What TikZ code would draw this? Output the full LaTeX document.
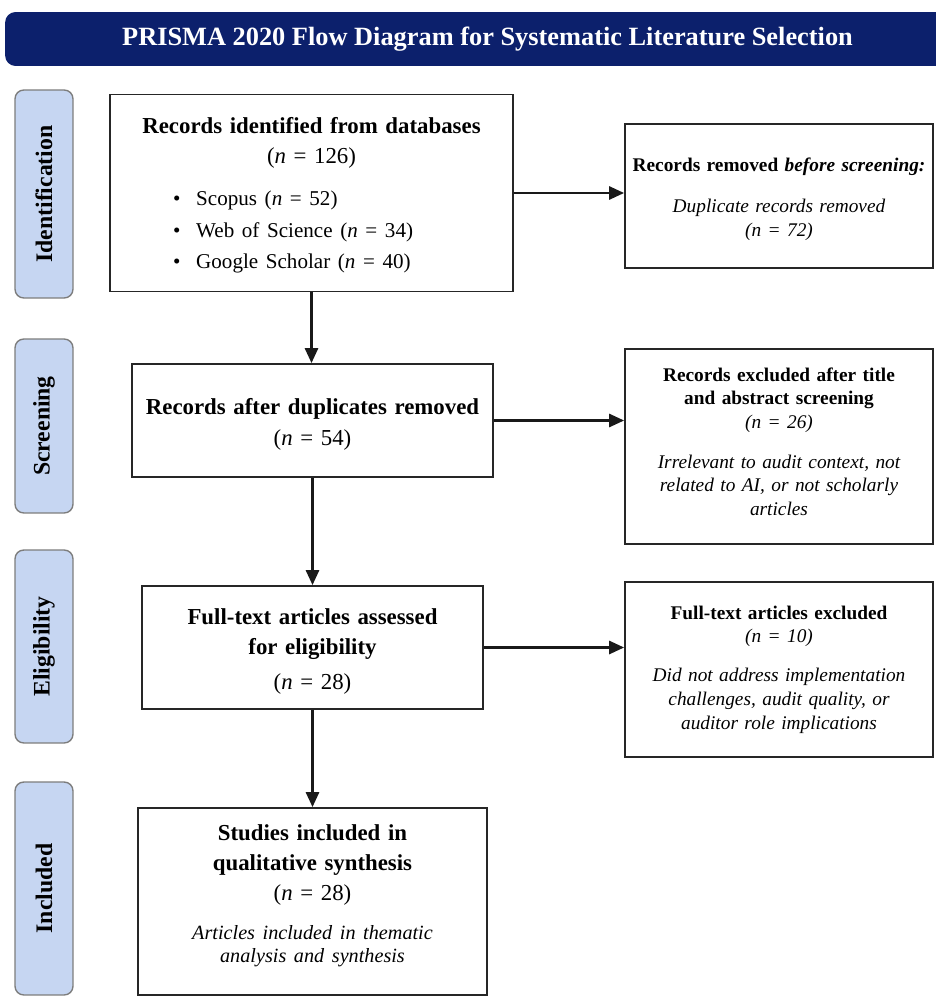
\documentclass[tikz,border=0pt]{standalone}
\usepackage{fontspec}
\setmainfont{Liberation Serif}
\usetikzlibrary{arrows.meta,positioning}

\definecolor{titlenavy}{RGB}{12,32,108}
\definecolor{phaseblue}{RGB}{198,214,242}
\definecolor{phaseedge}{RGB}{125,125,125}

\tikzset{
	flowbox/.style={draw=black!85,line width=1.1pt,fill=white,inner sep=0pt,align=center},
	leftbox/.style={flowbox,font=\fontsize{13}{17}\selectfont},
	rightbox/.style={flowbox,minimum width=6.16cm,text width=5.9cm,font=\fontsize{11}{13.5}\selectfont},
	phasebox/.style={draw=phaseedge,fill=phaseblue,line width=0.8pt,rounded corners=5pt,
		rotate=90,minimum height=1.16cm,inner sep=0pt,font=\fontsize{13.5}{15}\selectfont\bfseries},
	flowarrow/.style={-{Triangle[length=8.5pt,width=7.5pt]},line width=1.3pt,draw=black!90}
}

\begin{document}
\begin{tikzpicture}[x=0.02cm,y=-0.02cm]
	\useasboundingbox (0,0) rectangle (936,997);
	
	%title bar
	\node[fill=titlenavy,rounded corners=6pt,minimum width=19.3cm,minimum height=1.08cm,inner sep=0pt,
		text=white,font=\fontsize{15}{18}\selectfont\bfseries] (title) at (487.5,39)
		{PRISMA 2020 Flow Diagram for Systematic Literature Selection};
	
	%phase labels
	\node[phasebox,minimum width=4.16cm] (idphase)  at (44,194)   {Identification};
	\node[phasebox,minimum width=3.48cm] (scphase)  at (44,426)   {Screening};
	\node[phasebox,minimum width=3.86cm] (elphase)  at (44,646.5) {Eligibility};
	\node[phasebox,minimum width=4.26cm] (inphase)  at (44,888.5) {Included};
	
	%main boxes (struts nudge the text block up or down)
	\node[leftbox,minimum width=8.06cm,minimum height=3.94cm,text width=7.8cm] (records) at (311.5,193) {%
		\rule{0pt}{14.6pt}\textbf{Records identified from databases}\\
		(\textit{n} = 126)\par\vspace{6pt}
		{\fontsize{12}{18}\selectfont
		\begin{tabular}[t]{@{}l@{\hspace{21pt}}}
			\textbullet\hspace{9pt}Scopus (\textit{n} = 52)\\
			\textbullet\hspace{9pt}Web of Science (\textit{n} = 34)\\
			\textbullet\hspace{9pt}Google Scholar (\textit{n} = 40)
		\end{tabular}\par}};
	\node[leftbox,minimum width=7.22cm,minimum height=2.26cm,text width=7cm] (dedup) at (312.5,420.5) {%
		\rule{0pt}{13.4pt}\textbf{Records after duplicates removed}\\[1pt]
		(\textit{n} = 54)};
	\node[leftbox,minimum width=6.82cm,minimum height=2.46cm,text width=6.6cm] (fulltext) at (312.5,647.5) {%
		\rule{0pt}{14pt}\textbf{Full-text articles assessed}\\
		\textbf{for eligibility}\\[3pt]
		(\textit{n} = 28)};
	\node[leftbox,minimum width=6.98cm,minimum height=3.74cm,text width=6.7cm] (included) at (312.5,901.5) {%
		\textbf{Studies included in}\\
		\textbf{qualitative synthesis}\\[0.5pt]
		(\textit{n} = 28)\par\vspace{9pt}
		{\fontsize{11.5}{13}\selectfont\itshape Articles included in thematic\\
		analysis and synthesis\rule[-9.3pt]{0pt}{1pt}\par}};
	
	%exclusion boxes
	\node[rightbox,minimum height=2.88cm] (removed) at (779,196) {%
		\rule{0pt}{11pt}\textbf{Records removed \textit{before screening:}}\par\vspace{10pt}
		\textit{Duplicate records removed\\
		(n = 72)}};
	\node[rightbox,minimum height=3.9cm] (screenout) at (779,446.5) {%
		\textbf{Records excluded after title}\\
		\textbf{and abstract screening}\\
		\textit{(n = 26)}\par\vspace{9pt}
		\textit{Irrelevant to audit context, not\\
		related to AI, or not scholarly\\
		articles}\rule[-5.7pt]{0pt}{1pt}};
	\node[rightbox,minimum height=3.5cm] (fullout) at (779,669.5) {%
		\textbf{Full-text articles excluded}\\
		\textit{(n = 10)}\par\vspace{8.5pt}
		\textit{Did not address implementation\\
		challenges, audit quality, or\\
		auditor role implications}};
	
	%arrows
	\draw[flowarrow] (records.south)  -- (records.south |- dedup.north);
	\draw[flowarrow] (dedup.south)    -- (dedup.south |- fulltext.north);
	\draw[flowarrow] (fulltext.south) -- (fulltext.south |- included.north);
	\draw[flowarrow] (records.east)   -- (records.east -| removed.west);
	\draw[flowarrow] (dedup.east)     -- (dedup.east -| screenout.west);
	\draw[flowarrow] (fulltext.east)  -- (fulltext.east -| fullout.west);
\end{tikzpicture}
\end{document}
